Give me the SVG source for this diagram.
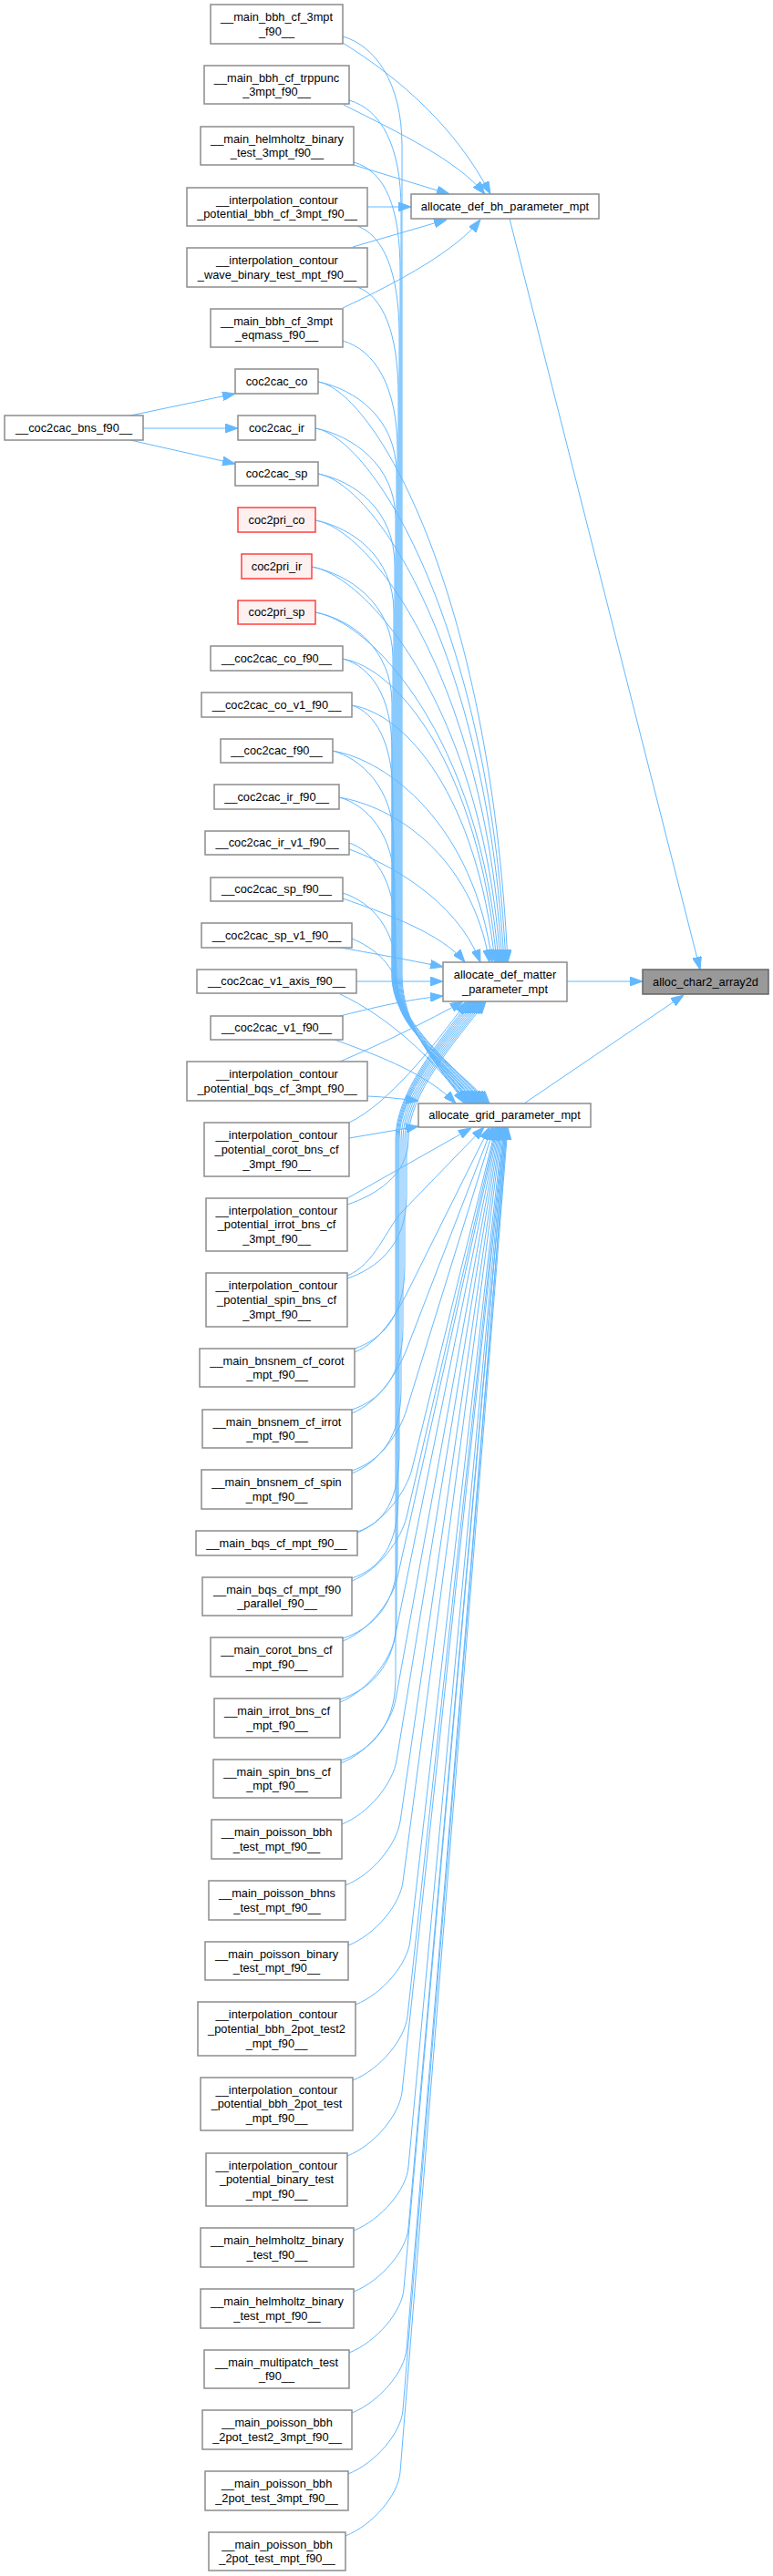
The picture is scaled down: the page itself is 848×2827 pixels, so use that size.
<svg xmlns="http://www.w3.org/2000/svg" width="848" height="2827" viewBox="0 0 848 2827">
<style>
.n rect{fill:#ffffff;stroke:#8c8c8c;stroke-width:1.5}
.r rect{fill:#fff0f0;stroke:#ff4040;stroke-width:1.5}
.h rect{fill:#999999;stroke:#666666;stroke-width:1.5}
text{font-family:"Liberation Sans",Arial,sans-serif;font-size:12.8px;text-anchor:middle;fill:#000000}
#edges path{fill:none;stroke:#63b8ff;stroke-width:1;marker-end:url(#ah)}
</style>
<defs>
<marker id="ah" markerUnits="userSpaceOnUse" viewBox="0 0 14 10" markerWidth="14" markerHeight="10" refX="14" refY="5" orient="auto">
<path d="M0,0 L14,5 L0,10 z" fill="#63b8ff" stroke="#63b8ff" stroke-width="1"/>
</marker>
</defs>
<rect width="848" height="2827" fill="#ffffff"/>
<g id="edges">
<path d="M559,240 L768,1064"/>
<path d="M622,1077 L705,1077"/>
<path d="M575,1211 L750,1092"/>
<path d="M143,456 L258,432"/>
<path d="M157,470 L261,470"/>
<path d="M143,483 L258,509"/>
<path d="M376,47 C440,87 500,140 538,213"/>
<path d="M377,115 C440,147 500,175 532,213"/>
<path d="M388,181 L493,213"/>
<path d="M403,227 L451,227"/>
<path d="M387,271 L490,241"/>
<path d="M376,338 C440,308 500,275 527,241"/>
<path d="M376,40 C411,50 441,90 441,160 L441,1070 C441,1125 478,1170 513,1211"/>
<path d="M383,110 C418,120 440,160 440,230 L440,1070 C440,1125 479,1170 514,1211"/>
<path d="M388,178 C423,188 439,228 439,298 L439,1070 C439,1125 480,1170 515,1211"/>
<path d="M392,248 C420,258 438,298 438,368 L438,1070 C438,1125 482,1170 517,1211"/>
<path d="M392,315 C420,325 437,365 437,435 L437,1070 C437,1125 483,1170 518,1211"/>
<path d="M376,374 C411,384 436,424 436,494 L436,1070 C436,1125 484,1170 519,1211"/>
<path d="M349,419 C389,427 435,459 435,519 L435,1070 C435,1125 485,1170 520,1211"/>
<path d="M346,470 C386,478 434,510 434,570 L434,1070 C434,1125 487,1170 522,1211"/>
<path d="M349,520 C389,528 433,560 433,620 L433,1070 C433,1125 488,1170 523,1211"/>
<path d="M346,571 C386,579 432,611 432,671 L432,1070 C432,1125 489,1170 524,1211"/>
<path d="M342,622 C382,630 431,662 431,722 L431,1070 C431,1125 491,1170 526,1211"/>
<path d="M346,672 C386,680 430,712 430,772 L430,1070 C430,1125 492,1170 527,1211"/>
<path d="M376,723 C406,731 430,763 430,823 L430,1070 C430,1125 493,1170 528,1211"/>
<path d="M386,774 C411,782 431,814 431,874 L431,1070 C431,1125 495,1170 530,1211"/>
<path d="M365,824 C395,832 432,864 432,924 L432,1070 C432,1125 496,1170 531,1211"/>
<path d="M372,875 C402,883 433,915 433,975 L433,1070 C433,1125 497,1170 532,1211"/>
<path d="M383,925 C408,933 434,965 434,1025 L434,1070 C434,1125 499,1170 534,1211"/>
<path d="M376,980 C408,990 435,1020 435,1070 C435,1125 500,1170 535,1211"/>
<path d="M386,1030 C410,1040 436,1060 436,1090 C436,1135 502,1170 537,1211"/>
<path d="M373,1091 C425,1115 480,1165 510,1211"/>
<path d="M367,1141 C420,1160 470,1180 500,1211"/>
<path d="M349,419 C409,429 537,642 557,1056"/>
<path d="M346,470 C406,480 535,675 555,1056"/>
<path d="M349,520 C409,530 533,708 553,1056"/>
<path d="M346,571 C406,581 531,741 551,1056"/>
<path d="M342,622 C402,632 529,774 549,1056"/>
<path d="M346,672 C406,682 527,806 547,1056"/>
<path d="M376,723 C436,733 525,840 545,1056"/>
<path d="M386,774 C446,784 523,873 543,1056"/>
<path d="M365,824 C425,834 520,905 540,1056"/>
<path d="M372,875 C432,885 517,938 537,1056"/>
<path d="M383,932 C420,945 500,985 527,1056"/>
<path d="M376,986 C425,1003 485,1025 510,1056"/>
<path d="M373,1040 C420,1048 455,1055 486,1061"/>
<path d="M391,1077 L486,1077"/>
<path d="M373,1115 C420,1103 455,1096 486,1093"/>
<path d="M373,1165 C420,1145 470,1120 508,1099"/>
<path d="M403,1203 C425,1204 440,1206 459,1208"/>
<path d="M383,1249 L459,1236"/>
<path d="M383,1232 C425,1212 475,1150 512,1099"/>
<path d="M381,1315 L517,1238"/>
<path d="M381,1322 C411,1312 448,1290 448,1250 C448,1200 498,1145 533,1099"/>
<path d="M381,1403 C411,1393 446,1368 446,1313 L446,1250 C446,1200 496,1145 531,1099"/>
<path d="M389,1480 C419,1470 444,1445 444,1390 L444,1250 C444,1200 494,1145 529,1099"/>
<path d="M386,1547 C416,1537 442,1512 442,1457 L442,1250 C442,1200 492,1145 527,1099"/>
<path d="M386,1614 C416,1604 440,1579 440,1524 L440,1250 C440,1200 490,1145 525,1099"/>
<path d="M392,1681 C422,1671 438,1646 438,1591 L438,1250 C438,1200 488,1145 523,1099"/>
<path d="M386,1732 C416,1722 437,1697 437,1642 L437,1250 C437,1200 486,1145 521,1099"/>
<path d="M376,1798 C406,1788 436,1763 436,1708 L436,1250 C436,1200 484,1145 519,1099"/>
<path d="M373,1865 C403,1855 435,1830 435,1775 L435,1250 C435,1200 482,1145 517,1099"/>
<path d="M374,1932 C404,1922 434,1897 434,1842 L434,1250 C434,1200 480,1145 515,1099"/>
<path d="M381,1400 C411,1388 424,1348 441,1330 L531,1237"/>
<path d="M389,1484 C419,1472 438,1436 449,1414 L537,1237"/>
<path d="M386,1551 C416,1539 437,1504 446,1481 L540,1237"/>
<path d="M386,1617 C416,1605 439,1571 446,1547 L542,1237"/>
<path d="M392,1682 C422,1670 446,1636 452,1612 L544,1237"/>
<path d="M386,1735 C416,1723 440,1689 446,1665 L545,1237"/>
<path d="M376,1801 C406,1789 431,1755 436,1731 L546,1237"/>
<path d="M373,1868 C403,1856 428,1822 433,1798 L547,1237"/>
<path d="M374,1935 C404,1923 430,1890 434,1865 L548,1237"/>
<path d="M375,2002 C405,1990 431,1957 435,1932 L549,1237"/>
<path d="M379,2069 C409,2057 435,2024 439,1999 L550,1237"/>
<path d="M382,2135 C412,2123 439,2090 442,2065 L551,1237"/>
<path d="M390,2200 C420,2188 447,2155 450,2130 L552,1237"/>
<path d="M387,2283 C417,2271 444,2238 447,2213 L553,1237"/>
<path d="M381,2366 C411,2354 438,2321 441,2296 L554,1237"/>
<path d="M388,2448 C418,2436 446,2403 448,2378 L554,1237"/>
<path d="M388,2515 C418,2503 446,2470 448,2445 L555,1237"/>
<path d="M383,2582 C413,2570 441,2537 443,2512 L555,1237"/>
<path d="M386,2648 C416,2636 444,2603 446,2578 L556,1237"/>
<path d="M382,2715 C412,2703 440,2670 442,2645 L556,1237"/>
<path d="M379,2783 C409,2771 437,2738 439,2713 L557,1237"/>
</g>
<g id="n_bbh3" class="n"><rect x="231" y="5" width="145" height="43"/><text x="303.5" y="23">__main_bbh_cf_3mpt</text><text x="303.5" y="38.8">_f90__</text></g>
<g id="n_trp" class="n"><rect x="224" y="72" width="159" height="42"/><text x="303.5" y="89.5">__main_bbh_cf_trppunc</text><text x="303.5" y="105.2">_3mpt_f90__</text></g>
<g id="n_helm3" class="n"><rect x="220" y="139" width="168" height="42"/><text x="304" y="156.5">__main_helmholtz_binary</text><text x="304" y="172.2">_test_3mpt_f90__</text></g>
<g id="n_ibbhcf" class="n"><rect x="205" y="206" width="198" height="42"/><text x="304" y="223.5">__interpolation_contour</text><text x="304" y="239.2">_potential_bbh_cf_3mpt_f90__</text></g>
<g id="n_iwave" class="n"><rect x="205" y="272" width="198" height="43"/><text x="304" y="290">__interpolation_contour</text><text x="304" y="305.7">_wave_binary_test_mpt_f90__</text></g>
<g id="n_eqm" class="n"><rect x="231" y="339" width="145" height="42"/><text x="303.5" y="356.5">__main_bbh_cf_3mpt</text><text x="303.5" y="372.2">_eqmass_f90__</text></g>
<g id="n_cco" class="n"><rect x="258" y="405" width="91" height="27"/><text x="303.5" y="422.9">coc2cac_co</text></g>
<g id="n_bns" class="n"><rect x="5" y="456" width="152" height="27"/><text x="81" y="473.9">__coc2cac_bns_f90__</text></g>
<g id="n_cir" class="n"><rect x="261" y="456" width="85" height="27"/><text x="303.5" y="473.9">coc2cac_ir</text></g>
<g id="n_csp" class="n"><rect x="258" y="507" width="91" height="26"/><text x="303.5" y="524.4">coc2cac_sp</text></g>
<g id="n_pco" class="r"><rect x="261" y="557" width="85" height="27"/><text x="303.5" y="574.9">coc2pri_co</text></g>
<g id="n_pir" class="r"><rect x="265" y="608" width="77" height="27"/><text x="303.5" y="625.9">coc2pri_ir</text></g>
<g id="n_psp" class="r"><rect x="261" y="659" width="85" height="26"/><text x="303.5" y="676.4">coc2pri_sp</text></g>
<g id="n_cof" class="n"><rect x="231" y="709" width="145" height="27"/><text x="303.5" y="726.9">__coc2cac_co_f90__</text></g>
<g id="n_cov1" class="n"><rect x="221" y="760" width="165" height="27"/><text x="303.5" y="777.9">__coc2cac_co_v1_f90__</text></g>
<g id="n_cf" class="n"><rect x="242" y="811" width="123" height="26"/><text x="303.5" y="828.4">__coc2cac_f90__</text></g>
<g id="n_irf" class="n"><rect x="235" y="861" width="137" height="27"/><text x="303.5" y="878.9">__coc2cac_ir_f90__</text></g>
<g id="n_irv1" class="n"><rect x="225" y="912" width="158" height="26"/><text x="304" y="929.4">__coc2cac_ir_v1_f90__</text></g>
<g id="n_spf" class="n"><rect x="231" y="963" width="145" height="26"/><text x="303.5" y="980.4">__coc2cac_sp_f90__</text></g>
<g id="n_spv1" class="n"><rect x="221" y="1013" width="165" height="27"/><text x="303.5" y="1030.9">__coc2cac_sp_v1_f90__</text></g>
<g id="n_v1ax" class="n"><rect x="216" y="1064" width="175" height="26"/><text x="303.5" y="1081.4">__coc2cac_v1_axis_f90__</text></g>
<g id="n_v1" class="n"><rect x="231" y="1115" width="145" height="26"/><text x="303.5" y="1132.4">__coc2cac_v1_f90__</text></g>
<g id="n_ibqs" class="n"><rect x="205" y="1165" width="198" height="43"/><text x="304" y="1183">__interpolation_contour</text><text x="304" y="1198.7">_potential_bqs_cf_3mpt_f90__</text></g>
<g id="n_icorot" class="n"><rect x="224" y="1232" width="159" height="59"/><text x="303.5" y="1250.2">__interpolation_contour</text><text x="303.5" y="1265.9">_potential_corot_bns_cf</text><text x="303.5" y="1281.6">_3mpt_f90__</text></g>
<g id="n_iirrot" class="n"><rect x="226" y="1315" width="155" height="58"/><text x="303.5" y="1332.7">__interpolation_contour</text><text x="303.5" y="1348.4">_potential_irrot_bns_cf</text><text x="303.5" y="1364.1">_3mpt_f90__</text></g>
<g id="n_ispin" class="n"><rect x="226" y="1397" width="155" height="59"/><text x="303.5" y="1415.2">__interpolation_contour</text><text x="303.5" y="1430.9">_potential_spin_bns_cf</text><text x="303.5" y="1446.6">_3mpt_f90__</text></g>
<g id="n_bncorot" class="n"><rect x="219" y="1480" width="170" height="42"/><text x="304" y="1497.5">__main_bnsnem_cf_corot</text><text x="304" y="1513.2">_mpt_f90__</text></g>
<g id="n_bnirrot" class="n"><rect x="222" y="1547" width="164" height="42"/><text x="304" y="1564.5">__main_bnsnem_cf_irrot</text><text x="304" y="1580.2">_mpt_f90__</text></g>
<g id="n_bnspin" class="n"><rect x="221" y="1613" width="165" height="43"/><text x="303.5" y="1631">__main_bnsnem_cf_spin</text><text x="303.5" y="1646.7">_mpt_f90__</text></g>
<g id="n_bqs" class="n"><rect x="215" y="1680" width="177" height="27"/><text x="303.5" y="1697.9">__main_bqs_cf_mpt_f90__</text></g>
<g id="n_bqsp" class="n"><rect x="222" y="1731" width="164" height="42"/><text x="304" y="1748.5">__main_bqs_cf_mpt_f90</text><text x="304" y="1764.2">_parallel_f90__</text></g>
<g id="n_corot" class="n"><rect x="231" y="1797" width="145" height="43"/><text x="303.5" y="1815">__main_corot_bns_cf</text><text x="303.5" y="1830.7">_mpt_f90__</text></g>
<g id="n_irrot" class="n"><rect x="235" y="1864" width="138" height="43"/><text x="304" y="1882">__main_irrot_bns_cf</text><text x="304" y="1897.7">_mpt_f90__</text></g>
<g id="n_spin" class="n"><rect x="234" y="1931" width="140" height="42"/><text x="304" y="1948.5">__main_spin_bns_cf</text><text x="304" y="1964.2">_mpt_f90__</text></g>
<g id="n_pbbh" class="n"><rect x="232" y="1997" width="143" height="43"/><text x="303.5" y="2015">__main_poisson_bbh</text><text x="303.5" y="2030.7">_test_mpt_f90__</text></g>
<g id="n_pbhns" class="n"><rect x="229" y="2064" width="150" height="43"/><text x="304" y="2082">__main_poisson_bhns</text><text x="304" y="2097.7">_test_mpt_f90__</text></g>
<g id="n_pbin" class="n"><rect x="225" y="2131" width="157" height="42"/><text x="303.5" y="2148.5">__main_poisson_binary</text><text x="303.5" y="2164.2">_test_mpt_f90__</text></g>
<g id="n_i2pot2" class="n"><rect x="217" y="2197" width="173" height="59"/><text x="303.5" y="2215.2">__interpolation_contour</text><text x="303.5" y="2230.9">_potential_bbh_2pot_test2</text><text x="303.5" y="2246.6">_mpt_f90__</text></g>
<g id="n_i2pot" class="n"><rect x="220" y="2280" width="167" height="58"/><text x="303.5" y="2297.7">__interpolation_contour</text><text x="303.5" y="2313.4">_potential_bbh_2pot_test</text><text x="303.5" y="2329.1">_mpt_f90__</text></g>
<g id="n_ibin" class="n"><rect x="226" y="2363" width="155" height="58"/><text x="303.5" y="2380.7">__interpolation_contour</text><text x="303.5" y="2396.4">_potential_binary_test</text><text x="303.5" y="2412.1">_mpt_f90__</text></g>
<g id="n_helm" class="n"><rect x="220" y="2445" width="168" height="43"/><text x="304" y="2463">__main_helmholtz_binary</text><text x="304" y="2478.7">_test_f90__</text></g>
<g id="n_helmmpt" class="n"><rect x="220" y="2512" width="168" height="43"/><text x="304" y="2530">__main_helmholtz_binary</text><text x="304" y="2545.7">_test_mpt_f90__</text></g>
<g id="n_multi" class="n"><rect x="224" y="2579" width="159" height="42"/><text x="303.5" y="2596.5">__main_multipatch_test</text><text x="303.5" y="2612.2">_f90__</text></g>
<g id="n_p2t2" class="n"><rect x="222" y="2645" width="164" height="43"/><text x="304" y="2663">__main_poisson_bbh</text><text x="304" y="2678.7">_2pot_test2_3mpt_f90__</text></g>
<g id="n_p2t3" class="n"><rect x="225" y="2712" width="157" height="43"/><text x="303.5" y="2730">__main_poisson_bbh</text><text x="303.5" y="2745.7">_2pot_test_3mpt_f90__</text></g>
<g id="n_p2tm" class="n"><rect x="229" y="2779" width="150" height="42"/><text x="304" y="2796.5">__main_poisson_bbh</text><text x="304" y="2812.2">_2pot_test_mpt_f90__</text></g>
<g id="n_bh" class="n"><rect x="451" y="213" width="206" height="27"/><text x="554" y="230.9">allocate_def_bh_parameter_mpt</text></g>
<g id="n_matter" class="n"><rect x="486" y="1056" width="136" height="43"/><text x="554" y="1074">allocate_def_matter</text><text x="554" y="1089.7">_parameter_mpt</text></g>
<g id="n_grid" class="n"><rect x="459" y="1211" width="189" height="26"/><text x="553.5" y="1228.4">allocate_grid_parameter_mpt</text></g>
<g id="n_char" class="h"><rect x="705" y="1064" width="138" height="27"/><text x="774" y="1081.9">alloc_char2_array2d</text></g>
</svg>
